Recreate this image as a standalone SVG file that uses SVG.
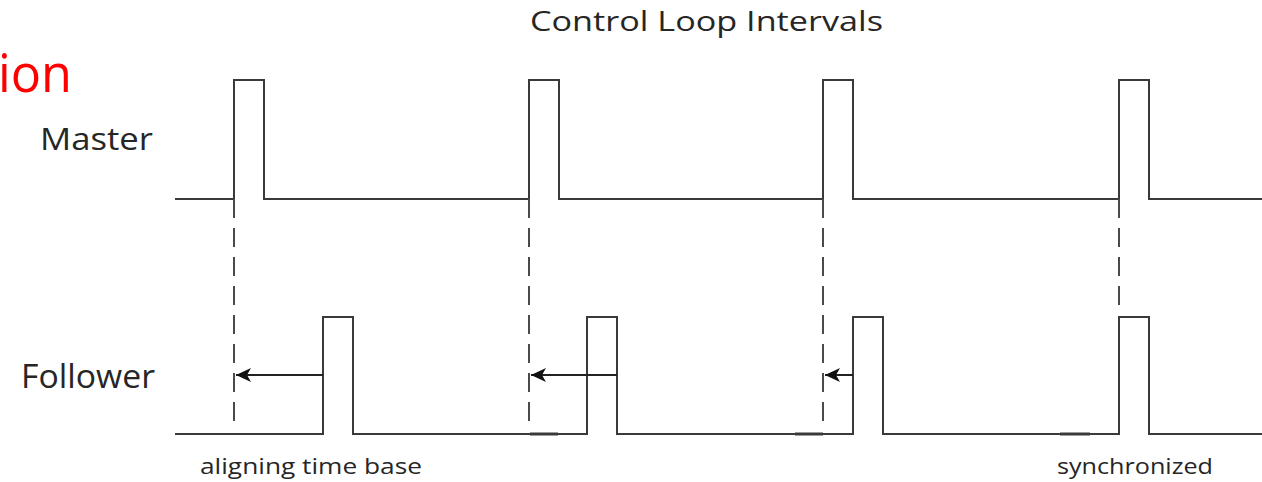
<svg xmlns="http://www.w3.org/2000/svg" width="1262" height="482" viewBox="0 0 1262 482">
  <style>
    .sig { fill: none; stroke: #3a3a3a; stroke-width: 2; stroke-linejoin: miter; }
    .dash { fill: none; stroke: #4a4a4a; stroke-width: 2; stroke-dasharray: 19 10; }
    .arr { fill: none; stroke: #222; stroke-width: 2; }
    .lbl { font-family: "Open Sans", "Liberation Sans", sans-serif; fill: #262626; }
    .seg { stroke: #3a3a3a; stroke-width: 3; }
  </style>
  <defs>
    <marker id="ah" markerUnits="userSpaceOnUse" markerWidth="16" markerHeight="14" refX="15" refY="7" orient="auto">
      <path d="M0,0 L15,7 L0,14 L4,7 Z" fill="#111"/>
    </marker>
  </defs>
  <rect width="1262" height="482" fill="#fff"/>

  <g id="title">
    <text class="lbl" x="530" y="31" font-size="28" textLength="353" lengthAdjust="spacingAndGlyphs">Control Loop Intervals</text>
  </g>
  <g id="fragment">
    <text x="-2" y="92" font-family="Open Sans, Liberation Sans, sans-serif" font-size="53" fill="#ff0000" textLength="74" lengthAdjust="spacingAndGlyphs">ion</text>
  </g>
  <g id="master-label">
    <text class="lbl" x="40" y="150" font-size="31" textLength="113" lengthAdjust="spacingAndGlyphs">Master</text>
  </g>
  <g id="follower-label">
    <text class="lbl" x="21" y="388" font-size="32" textLength="134" lengthAdjust="spacingAndGlyphs">Follower</text>
  </g>

  <g id="master-signal">
    <path class="sig" d="M175 199 H234 V80 H264 V199 H529 V80 H559 V199 H823 V80 H853 V199 H1119 V80 H1149 V199 H1262"/>
  </g>
  <g id="follower-signal">
    <path class="sig" d="M175 434 H323 V317 H353 V434 H587 V317 H617 V434 H853 V317 H883 V434 H1119 V317 H1149 V434 H1262"/>
    <line class="seg" x1="530" y1="434" x2="558" y2="434"/>
    <line class="seg" x1="795" y1="434" x2="823" y2="434"/>
    <line class="seg" x1="1060" y1="434" x2="1090" y2="434"/>
  </g>

  <g id="connectors">
    <line class="dash" x1="234" y1="199" x2="234" y2="422"/>
    <line class="dash" x1="529" y1="199" x2="529" y2="422"/>
    <line class="dash" x1="823" y1="199" x2="823" y2="422"/>
    <line class="dash" x1="1119" y1="199" x2="1119" y2="306"/>
    <path class="arr" d="M323 375 H236" marker-end="url(#ah)"/>
    <path class="arr" d="M617 375 H531" marker-end="url(#ah)"/>
    <path class="arr" d="M853 375 H825" marker-end="url(#ah)"/>
  </g>

  <g id="notes">
    <text class="lbl" x="200" y="474" font-size="22" textLength="222" lengthAdjust="spacingAndGlyphs">aligning time base</text>
    <text class="lbl" x="1057" y="474" font-size="22" textLength="156" lengthAdjust="spacingAndGlyphs">synchronized</text>
  </g>
</svg>
